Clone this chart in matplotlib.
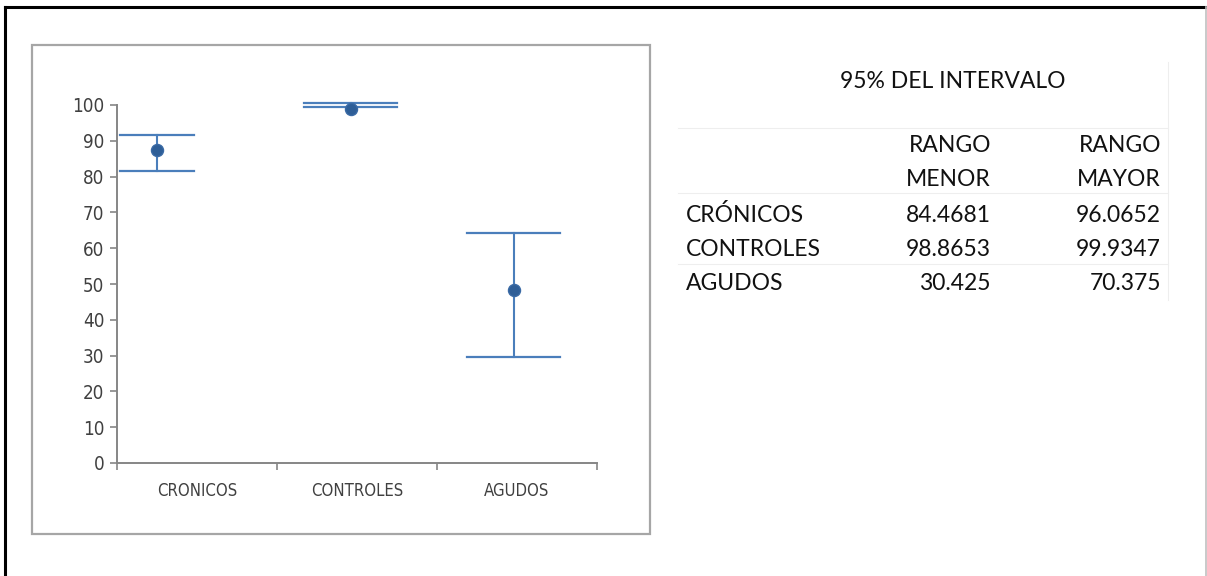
import matplotlib
matplotlib.use("Agg")
import matplotlib.pyplot as plt
from matplotlib.patches import Rectangle
from matplotlib.lines import Line2D

# datos del grafico de intervalos
grupos = ["CRONICOS", "CONTROLES", "AGUDOS"]
media = [87.4, 99.0, 48.3]
lim_inf = [81.6, 99.4, 29.7]
lim_sup = [91.6, 100.5, 64.2]
pos_x = [-0.25, 0.96, 1.98]
semi_ancho = [0.23, 0.29, 0.29]

# tabla del 95% del intervalo
titulo_tabla = "95% DEL INTERVALO"
encabezados = [("RANGO", "MENOR"), ("RANGO", "MAYOR")]
filas = ["CRÓNICOS", "CONTROLES", "AGUDOS"]
rango_menor = ["84.4681", "98.8653", "30.425"]
rango_mayor = ["96.0652", "99.9347", "70.375"]

W, H = 1207, 576
fuente_tabla = "Lato"

fig = plt.figure(figsize=(W / 100, H / 100), dpi=100)
fig.patch.set_facecolor("white")


def fx(x):
    return x / W


def fy(y):
    return 1 - y / H


# marco exterior
fig.add_artist(Line2D([fx(5), fx(5)], [fy(7), fy(576)], color="black", lw=2.2))
fig.add_artist(Line2D([fx(5), fx(1206)], [fy(7), fy(7)], color="black", lw=2.2))
fig.add_artist(Line2D([fx(1206), fx(1206)], [fy(7), fy(576)], color="#c0c0c0", lw=1.2))

# recuadro del grafico
fig.add_artist(Rectangle((fx(32), fy(534)), fx(650) - fx(32), fy(45) - fy(534),
                         fill=False, edgecolor="#a6a6a6", lw=1.6))

ax = fig.add_axes([fx(117), fy(463), fx(597) - fx(117), fy(105) - fy(463)])
azul = "#4a7ebb"
for x, m, lo, hi, w in zip(pos_x, media, lim_inf, lim_sup, semi_ancho):
    ax.plot([x, x], [lo, hi], color=azul, lw=1.5, clip_on=False, zorder=2)
    ax.plot([x - w, x + w], [lo, lo], color=azul, lw=1.6, clip_on=False, zorder=2)
    ax.plot([x - w, x + w], [hi, hi], color=azul, lw=1.6, clip_on=False, zorder=2)
ax.scatter(pos_x, media, s=75, color="#2e5e97", edgecolor="#3a6aa5", zorder=3, clip_on=False)

ax.set_xlim(-0.5, 2.5)
ax.set_ylim(0, 100)
ax.set_yticks(range(0, 101, 10))
ax.set_xticks([0, 1, 2])
ax.set_xticklabels(grupos)
ax.set_xticks([-0.5, 0.5, 1.5, 2.5], minor=True)
ax.tick_params(axis="x", which="major", length=0, pad=14)
ax.tick_params(axis="x", which="minor", length=5, color="#868686", width=1.2, direction="out")
ax.tick_params(axis="y", length=5, color="#868686", width=1.2, direction="out", pad=4)
for lab in ax.get_xticklabels() + ax.get_yticklabels():
    lab.set_fontfamily("DejaVu Sans")
    lab.set_fontstretch("condensed")
    lab.set_color("#404040")
for lab in ax.get_xticklabels():
    lab.set_fontsize(12)
for lab in ax.get_yticklabels():
    lab.set_fontsize(13.5)
for lado in ["top", "right"]:
    ax.spines[lado].set_visible(False)
for lado in ["left", "bottom"]:
    ax.spines[lado].set_color("#868686")
    ax.spines[lado].set_linewidth(1.4)
ax.set_facecolor("none")

# lineas tenues de la tabla
gris = "#eeeeee"
for y in [128, 193, 264]:
    fig.add_artist(Line2D([fx(678), fx(1168)], [fy(y), fy(y)], color=gris, lw=0.8))
fig.add_artist(Line2D([fx(1168), fx(1168)], [fy(62), fy(300)], color=gris, lw=0.8))

kw = dict(fontfamily=fuente_tabla, fontsize=16.5, color="#111111", va="center")
fig.text(fx(953), fy(82), titulo_tabla, ha="center", **kw)
for (l1, l2), xr in zip(encabezados, [991, 1161]):
    fig.text(fx(xr), fy(146), l1, ha="right", **kw)
    fig.text(fx(xr), fy(180), l2, ha="right", **kw)
for i, (nom, lo, hi) in enumerate(zip(filas, rango_menor, rango_mayor)):
    y = 215 + 34 * i
    fig.text(fx(686), fy(y), nom, ha="left", **kw)
    fig.text(fx(991), fy(y), lo, ha="right", **kw)
    fig.text(fx(1161), fy(y), hi, ha="right", **kw)

fig.savefig("out.png", dpi=100)
